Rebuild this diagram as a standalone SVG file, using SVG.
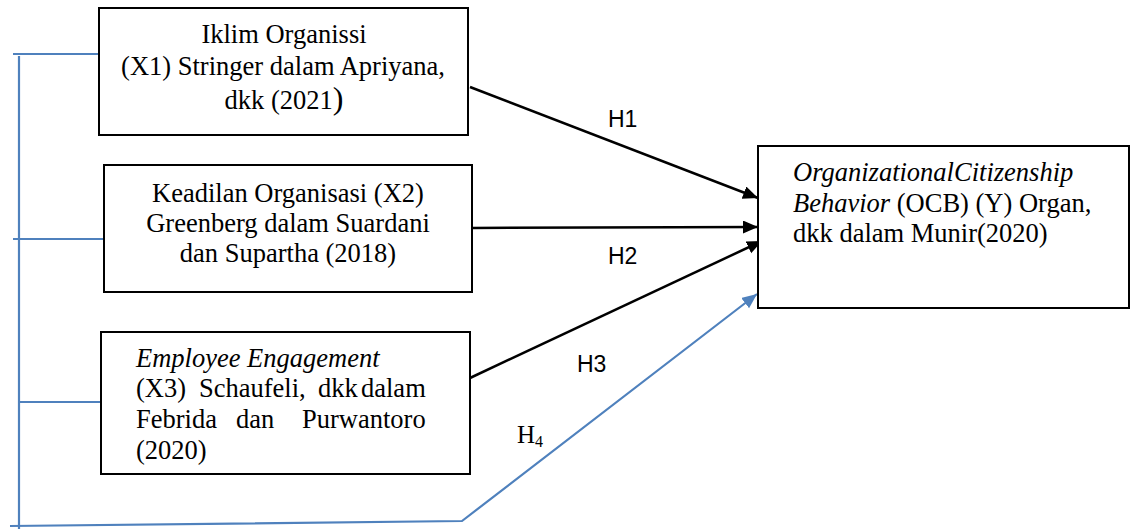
<svg xmlns="http://www.w3.org/2000/svg" width="1131" height="529" viewBox="0 0 1131 529">
<style>
.box{fill:#fff;stroke:#000;stroke-width:2}
.t{font-family:"Liberation Serif","Times New Roman",serif;font-size:26.5px;fill:#000}
.c{text-anchor:middle}
.it{font-style:italic}
.h{font-family:"Liberation Sans",Arial,sans-serif;font-size:23px;fill:#000}
.blk{stroke:#000;stroke-width:2.5;fill:none}
.blu{stroke:#4f81bd;stroke-width:2.2;fill:none}
</style>
<defs>
<marker id="ab" markerUnits="userSpaceOnUse" markerWidth="16" markerHeight="14" refX="15" refY="6.5" orient="auto"><path d="M0,0 L15,6.5 L0,13 z" fill="#000"/></marker>
<marker id="au" markerUnits="userSpaceOnUse" markerWidth="16" markerHeight="14" refX="15" refY="6.5" orient="auto"><path d="M0,0 L15,6.5 L0,13 z" fill="#4f81bd"/></marker>
</defs>
<g id="connectors">
<line class="blu" x1="19" y1="56" x2="19" y2="529"/>
<line class="blu" x1="13" y1="54" x2="98" y2="54"/>
<line class="blu" x1="13" y1="239" x2="103" y2="239"/>
<line class="blu" x1="19" y1="402" x2="100" y2="402"/>
<polyline class="blu" points="10,526 462,521 757,294" marker-end="url(#au)"/>
<line class="blk" x1="470" y1="87" x2="758" y2="198" marker-end="url(#ab)"/>
<line class="blk" x1="472" y1="228" x2="758" y2="227" marker-end="url(#ab)"/>
<line class="blk" x1="470" y1="378" x2="762" y2="241" marker-end="url(#ab)"/>
<text class="h" x="608" y="127">H1</text>
<text class="h" x="608" y="264">H2</text>
<text class="h" x="577" y="372">H3</text>
<text class="t" x="517" y="443" style="font-size:25px">H<tspan y="447" style="font-size:16px">4</tspan></text>
</g>
<g id="x1">
<rect class="box" x="99" y="8" width="369" height="127"/>
<text class="t c" x="284" y="43">Iklim Organissi</text>
<text class="t c" x="283" y="75">(X1) Stringer dalam Apriyana,</text>
<text class="t c" x="284" y="109">dkk (2021<tspan style="font-size:32px">)</tspan></text>
</g>
<g id="x2">
<rect class="box" x="104" y="165" width="368" height="127"/>
<text class="t c" x="288" y="202">Keadilan Organisasi (X2)</text>
<text class="t c" x="288" y="232">Greenberg dalam Suardani</text>
<text class="t c" x="288" y="262">dan Supartha (2018)</text>
</g>
<g id="x3">
<rect class="box" x="101" y="332" width="369" height="142"/>
<text class="t it" x="136" y="367">Employee Engagement</text>
<text class="t" y="397"><tspan x="136">(X3) </tspan><tspan x="199">Schaufeli, </tspan><tspan x="318">dkk </tspan><tspan x="361">dalam</tspan></text>
<text class="t" y="428"><tspan x="136">Febrida </tspan><tspan x="236">dan </tspan><tspan x="302">Purwantoro</tspan></text>
<text class="t" x="136" y="459">(2020)</text>
</g>
<g id="y">
<rect class="box" x="758" y="146" width="371" height="162"/>
<text class="t it" x="793" y="181">OrganizationalCitizenship</text>
<text class="t" x="793" y="212"><tspan class="it">Behavior</tspan> (OCB) (Y) Organ,</text>
<text class="t" x="793" y="242">dkk dalam Munir(2020)</text>
</g>
</svg>
